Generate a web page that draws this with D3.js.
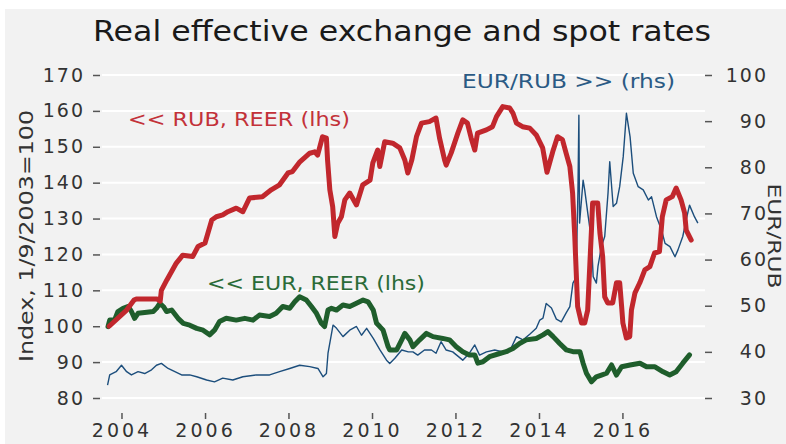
<!DOCTYPE html>
<html>
<head>
<meta charset="utf-8">
<script src="https://cdn.jsdelivr.net/npm/d3@7"></script>
<style>
  html, body { margin: 0; padding: 0; background: #fff; }
  svg text { font-family: "DejaVu Sans", sans-serif; }
</style>
</head>
<body>
<div id="chart"></div>
<script>
// RUB real effective exchange rate, index (lhs)
var rubReer = [
  ['2003-09-15', 100], ['2004-02-15', 104.5], ['2004-04-20', 107.3], ['2004-05-10', 107.6],
  ['2004-11-05', 107.6], ['2004-12-05', 107], ['2004-12-15', 110], ['2005-02-01', 112.9],
  ['2005-04-25', 117.6], ['2005-06-20', 119.8], ['2005-09-15', 119.4], ['2005-11-01', 122.2],
  ['2006-01-01', 123.2], ['2006-03-01', 129.6], ['2006-04-10', 130.5], ['2006-06-05', 131],
  ['2006-07-20', 131.9], ['2006-10-01', 132.9], ['2006-11-28', 131.9], ['2007-01-25', 135.7],
  ['2007-05-18', 136.1], ['2007-08-03', 138], ['2007-10-15', 139.4], ['2007-12-28', 142.7],
  ['2008-02-05', 143.1], ['2008-04-10', 145.8], ['2008-07-05', 148.2], ['2008-08-18', 148.6],
  ['2008-09-12', 147.7], ['2008-10-25', 152.8], ['2008-11-28', 152.4], ['2008-12-08', 146.3],
  ['2008-12-28', 138], ['2009-01-22', 133.3], ['2009-02-10', 125], ['2009-03-07', 128.7],
  ['2009-04-08', 130.5], ['2009-05-08', 135.2], ['2009-06-20', 137.1], ['2009-08-18', 133.8],
  ['2009-10-12', 139.4], ['2009-12-15', 140.7], ['2010-01-08', 145.5], ['2010-02-20', 149.1],
  ['2010-03-10', 144.5], ['2010-04-22', 151.4], ['2010-07-01', 151], ['2010-09-01', 149.7],
  ['2010-10-15', 146.3], ['2010-11-10', 142.7], ['2010-12-15', 146.3], ['2011-01-25', 152.8],
  ['2011-03-10', 156.6], ['2011-05-18', 157], ['2011-07-15', 158], ['2011-08-15', 152.4],
  ['2011-09-28', 146.3], ['2011-10-12', 144.9], ['2011-11-25', 148.3], ['2012-01-22', 153.8],
  ['2012-03-05', 157.5], ['2012-04-15', 156.6], ['2012-05-18', 152.4], ['2012-06-18', 149.1],
  ['2012-07-12', 153.8], ['2012-09-28', 154.7], ['2012-11-20', 155.6], ['2012-12-25', 158.4],
  ['2013-02-18', 161.2], ['2013-04-20', 160.8], ['2013-05-18', 159.4], ['2013-06-18', 156.6],
  ['2013-08-10', 155.6], ['2013-10-12', 155.2], ['2013-12-08', 153.3], ['2014-02-02', 149.7],
  ['2014-03-12', 142.9], ['2014-05-01', 148.6], ['2014-06-12', 152.8], ['2014-07-25', 152],
  ['2014-08-28', 148], ['2014-09-28', 144.5], ['2014-10-22', 137.1], ['2014-11-10', 125],
  ['2014-12-05', 105.5], ['2015-01-08', 100.9], ['2015-02-05', 100.9], ['2015-03-03', 104.5],
  ['2015-04-05', 126.8], ['2015-04-15', 134.3], ['2015-05-30', 134.3], ['2015-06-18', 126],
  ['2015-07-12', 119.4], ['2015-07-30', 108.2], ['2015-08-25', 106.5], ['2015-10-08', 106.5],
  ['2015-11-10', 112.1], ['2015-12-08', 112.1], ['2015-12-25', 105.5], ['2016-01-05', 100.9],
  ['2016-02-05', 96.7], ['2016-03-05', 97.1], ['2016-03-20', 104.5], ['2016-04-20', 109.3],
  ['2016-06-01', 112.1], ['2016-07-15', 115.7], ['2016-08-28', 116.6], ['2016-10-08', 120.4],
  ['2016-11-20', 120.8], ['2016-12-15', 130.5], ['2017-01-18', 135.2], ['2017-03-12', 136.1],
  ['2017-04-15', 138.5], ['2017-05-28', 135.2], ['2017-06-28', 131.6], ['2017-07-12', 126.8],
  ['2017-08-25', 124]
];

// EUR real effective exchange rate, index (lhs)
var eurReer = [
  ['2003-09-05', 99.9], ['2003-09-20', 101.7], ['2003-11-01', 101.7], ['2003-12-01', 104.1],
  ['2004-01-15', 105], ['2004-03-01', 105.5], ['2004-03-28', 104.1], ['2004-04-25', 102.2],
  ['2004-05-25', 103.6], ['2004-07-22', 103.8], ['2004-10-05', 104.1], ['2004-11-02', 105],
  ['2004-12-01', 106.4], ['2005-01-01', 105.5], ['2005-01-30', 104.1], ['2005-03-15', 104.5],
  ['2005-05-10', 102.2], ['2005-06-25', 100.8], ['2005-08-20', 100.3], ['2005-10-20', 99.4],
  ['2005-12-15', 98.9], ['2006-02-10', 97.6], ['2006-03-25', 98.9], ['2006-05-08', 101.3],
  ['2006-07-05', 102.2], ['2006-10-01', 101.7], ['2006-12-15', 102.2], ['2007-02-25', 101.7],
  ['2007-04-22', 103.1], ['2007-07-20', 102.7], ['2007-09-15', 103.6], ['2007-11-12', 105.5],
  ['2008-01-12', 105], ['2008-02-25', 106.8], ['2008-04-08', 108.2], ['2008-06-05', 107.3],
  ['2008-07-20', 105.5], ['2008-09-02', 103.6], ['2008-10-15', 100.8], ['2008-11-12', 99.9],
  ['2008-12-12', 104.5], ['2009-01-12', 105], ['2009-02-25', 104.5], ['2009-04-22', 105.9],
  ['2009-06-20', 105.5], ['2009-08-18', 106.4], ['2009-10-15', 107.3], ['2009-11-28', 106.8],
  ['2010-01-12', 104.5], ['2010-02-10', 100.8], ['2010-03-10', 99.9], ['2010-04-08', 98.9],
  ['2010-05-22', 94.3], ['2010-06-05', 93.4], ['2010-08-05', 93.4], ['2010-09-18', 96.2],
  ['2010-10-15', 98], ['2010-11-28', 96.2], ['2010-12-25', 94.3], ['2011-02-22', 96.2],
  ['2011-04-22', 98], ['2011-06-18', 97.1], ['2011-09-12', 96.6], ['2011-11-10', 96.2],
  ['2012-01-08', 94.3], ['2012-03-05', 92.9], ['2012-05-02', 92], ['2012-06-18', 92],
  ['2012-07-15', 89.7], ['2012-08-28', 90.1], ['2012-10-25', 91.5], ['2013-01-22', 92.4],
  ['2013-03-20', 92.9], ['2013-05-18', 93.8], ['2013-07-15', 95.2], ['2013-09-12', 96.2],
  ['2013-12-08', 96.6], ['2014-02-05', 97.6], ['2014-03-20', 98.5], ['2014-05-05', 97.1],
  ['2014-07-01', 95.2], ['2014-08-28', 93.4], ['2014-10-25', 92.9], ['2014-12-25', 92.9],
  ['2015-01-22', 89.7], ['2015-02-20', 86.9], ['2015-04-05', 84.5], ['2015-05-18', 85.9],
  ['2015-07-01', 86.4], ['2015-08-15', 86.9], ['2015-09-28', 89.2], ['2015-11-10', 86.4],
  ['2015-12-25', 88.7], ['2016-03-08', 89.2], ['2016-06-02', 89.7], ['2016-07-30', 88.7],
  ['2016-10-12', 88.7], ['2016-12-22', 87.3], ['2017-02-18', 86.4], ['2017-04-15', 87.3],
  ['2017-06-12', 89.7], ['2017-08-10', 92]
];

// EUR/RUB spot rate (rhs)
var eurRub = [
  ['2003-09-01', 32.8], ['2003-09-20', 35], ['2003-11-15', 35.7], ['2004-01-01', 37.1],
  ['2004-02-15', 35.7], ['2004-03-28', 35], ['2004-05-25', 35.7], ['2004-07-22', 35.3],
  ['2004-09-20', 36.1], ['2004-11-02', 37.1], ['2004-12-15', 37.5], ['2005-02-12', 36.4],
  ['2005-04-12', 35.7], ['2005-06-10', 35], ['2005-08-20', 35], ['2005-10-20', 34.6],
  ['2006-01-15', 33.9], ['2006-03-25', 33.5], ['2006-06-05', 34.3], ['2006-09-01', 33.9],
  ['2006-11-28', 34.6], ['2007-03-25', 35], ['2007-07-20', 35], ['2007-10-15', 35.7],
  ['2008-01-12', 36.4], ['2008-04-08', 37.1], ['2008-07-05', 36.8], ['2008-09-15', 36.4],
  ['2008-10-30', 34.6], ['2008-11-28', 35.3], ['2008-12-12', 39.7], ['2009-01-25', 45.8],
  ['2009-02-25', 45.1], ['2009-04-22', 43.3], ['2009-06-20', 44.7], ['2009-08-18', 45.5],
  ['2009-10-01', 43.6], ['2009-11-15', 45.1], ['2010-01-12', 42.9], ['2010-03-10', 40.5],
  ['2010-05-08', 38.2], ['2010-06-05', 37.5], ['2010-07-20', 38.6], ['2010-09-18', 40.4],
  ['2010-11-15', 40], ['2010-12-25', 40], ['2011-02-05', 39.3], ['2011-04-05', 40.4],
  ['2011-06-05', 40.4], ['2011-07-15', 39.7], ['2011-08-28', 42.2], ['2011-10-12', 40.4],
  ['2011-12-08', 40], ['2012-03-05', 38.2], ['2012-05-02', 39.7], ['2012-06-18', 41.5],
  ['2012-07-30', 39.3], ['2012-09-28', 40], ['2012-12-10', 40.4], ['2013-02-20', 40],
  ['2013-05-02', 40.8], ['2013-06-18', 43.3], ['2013-08-15', 42.6], ['2013-10-12', 43.8],
  ['2013-12-08', 45.1], ['2014-01-08', 46.9], ['2014-02-05', 47.3], ['2014-03-05', 50.5],
  ['2014-04-20', 49.5], ['2014-06-02', 47.1], ['2014-07-15', 46.5], ['2014-08-28', 48.5],
  ['2014-09-28', 49.8], ['2014-10-25', 54.9], ['2014-11-10', 55.6], ['2014-11-25', 60],
  ['2014-12-08', 75], ['2014-12-16', 91.3], ['2014-12-22', 67.9], ['2015-01-22', 77.2],
  ['2015-02-05', 75.1], ['2015-03-08', 69.3], ['2015-04-05', 64.2], ['2015-04-20', 56.3],
  ['2015-05-18', 54.9], ['2015-06-01', 58.5], ['2015-07-01', 62.8], ['2015-07-30', 65],
  ['2015-08-28', 74.4], ['2015-09-12', 81.2], ['2015-10-12', 71.5], ['2015-11-10', 72.2],
  ['2015-12-08', 75.8], ['2016-01-08', 82.3], ['2016-02-05', 91.7], ['2016-03-08', 86.6],
  ['2016-04-05', 78.7], ['2016-05-18', 75.8], ['2016-07-01', 75.1], ['2016-08-15', 72.9],
  ['2016-09-12', 73.6], ['2016-10-25', 69.3], ['2016-12-08', 66.4], ['2017-01-08', 63.5],
  ['2017-02-20', 62.8], ['2017-04-05', 60.6], ['2017-05-01', 62.1], ['2017-06-12', 65],
  ['2017-07-12', 68.6], ['2017-08-10', 71.8], ['2017-09-22', 69.3], ['2017-10-22', 67.9]
];

var leftTicks  = [80, 90, 100, 110, 120, 130, 140, 150, 160, 170];
var rightTicks = [30, 40, 50, 60, 70, 80, 90, 100];
var yearTicks  = [2004, 2006, 2008, 2010, 2012, 2014, 2016];

var chart = (function() {
  'use strict';
  var W = 786, H = 444;
  var RED = '#c1272d', GREEN = '#1f5e2c', BLUE = '#1c4e7c';
  var parse = d3.timeParse('%Y-%m-%d');

  var x = d3.scaleTime()
    .domain([parse('2003-08-01'), parse('2017-11-01')])
    .range([104, 699]);
  var yLeft = d3.scaleLinear().domain([80, 170]).range([398, 75]);
  var yRight = d3.scaleLinear().domain([30, 100]).range([398, 75]);

  var svg = d3.select('#chart').append('svg')
    .attr('width', W).attr('height', H);

  // grey panel
  svg.append('rect')
    .attr('x', 5).attr('y', 9)
    .attr('width', W - 5).attr('height', H - 9)
    .attr('fill', '#f2f2f2');

  svg.append('text')
    .attr('x', 402).attr('y', 41)
    .attr('text-anchor', 'middle')
    .attr('font-size', 29)
    .attr('textLength', 618).attr('lengthAdjust', 'spacingAndGlyphs')
    .attr('fill', '#1a1a1a')
    .text('Real effective exchange and spot rates');

  // horizontal grid at left ticks
  svg.append('g').selectAll('line')
    .data(leftTicks)
    .join('line')
    .attr('x1', 102).attr('x2', 705)
    .attr('y1', function(d) { return yLeft(d); })
    .attr('y2', function(d) { return yLeft(d); })
    .attr('stroke', '#fff').attr('stroke-width', 2);

  function styleAxis(g) {
    g.select('.domain').remove();
    g.selectAll('.tick line').attr('stroke', '#555').attr('stroke-width', 1.5);
    g.selectAll('.tick text')
      .attr('fill', '#333')
      .style('font-family', '"DejaVu Sans", sans-serif');
  }

  var gLeft = svg.append('g')
    .attr('transform', 'translate(100,0)')
    .call(d3.axisLeft(yLeft).tickValues(leftTicks).tickSize(7).tickPadding(8));
  styleAxis(gLeft);
  gLeft.selectAll('.tick text').style('font-size', '19px').style('letter-spacing', '2px');

  var gRight = svg.append('g')
    .attr('transform', 'translate(705,0)')
    .call(d3.axisRight(yRight).tickValues(rightTicks).tickSize(7));
  styleAxis(gRight);
  gRight.selectAll('.tick text')
    .attr('x', 63).attr('text-anchor', 'end')
    .style('font-size', '19px').style('letter-spacing', '2px');

  var gBottom = svg.append('g')
    .attr('transform', 'translate(0,413)')
    .call(d3.axisBottom(x)
      .tickValues(yearTicks.map(function(y) { return new Date(y, 0, 1); }))
      .tickFormat(d3.timeFormat('%Y'))
      .tickSize(6).tickPadding(5));
  styleAxis(gBottom);
  gBottom.selectAll('.tick text').style('font-size', '19px').style('letter-spacing', '3px');

  // axis titles
  svg.append('text')
    .attr('transform', 'translate(33,236) rotate(-90)')
    .attr('text-anchor', 'middle')
    .attr('font-size', 20).attr('fill', '#333')
    .attr('textLength', 252).attr('lengthAdjust', 'spacingAndGlyphs')
    .text('Index, 1/9/2003=100');

  svg.append('text')
    .attr('transform', 'translate(768,236) rotate(90)')
    .attr('text-anchor', 'middle')
    .attr('font-size', 18).attr('fill', '#333')
    .attr('textLength', 105).attr('lengthAdjust', 'spacingAndGlyphs')
    .text('EUR/RUB');

  function lineFor(y) {
    return d3.line()
      .x(function(d) { return x(parse(d[0])); })
      .y(function(d) { return y(d[1]); });
  }

  svg.append('path')
    .datum(eurRub)
    .attr('fill', 'none').attr('stroke', BLUE).attr('stroke-width', 1.4)
    .attr('stroke-linejoin', 'round')
    .attr('d', lineFor(yRight));

  svg.append('path')
    .datum(eurReer)
    .attr('fill', 'none').attr('stroke', GREEN).attr('stroke-width', 5)
    .attr('stroke-linejoin', 'round').attr('stroke-linecap', 'round')
    .attr('d', lineFor(yLeft));

  svg.append('path')
    .datum(rubReer)
    .attr('fill', 'none').attr('stroke', RED).attr('stroke-width', 5)
    .attr('stroke-linejoin', 'round').attr('stroke-linecap', 'round')
    .attr('d', lineFor(yLeft));

  // series labels
  var labels = [
    {text: '<< RUB, REER (lhs)', x: 128, y: 126, len: 222, color: '#c3323a'},
    {text: '<< EUR, REER (lhs)', x: 207, y: 290, len: 218, color: '#2a6b38'},
    {text: 'EUR/RUB >> (rhs)', x: 462, y: 88, len: 213, color: '#2b5a84'}
  ];
  svg.append('g').selectAll('text')
    .data(labels)
    .join('text')
    .attr('x', function(d) { return d.x; })
    .attr('y', function(d) { return d.y; })
    .attr('font-size', 19)
    .attr('textLength', function(d) { return d.len; })
    .attr('lengthAdjust', 'spacingAndGlyphs')
    .attr('fill', function(d) { return d.color; })
    .text(function(d) { return d.text; });
})();
</script>
</body>
</html>
